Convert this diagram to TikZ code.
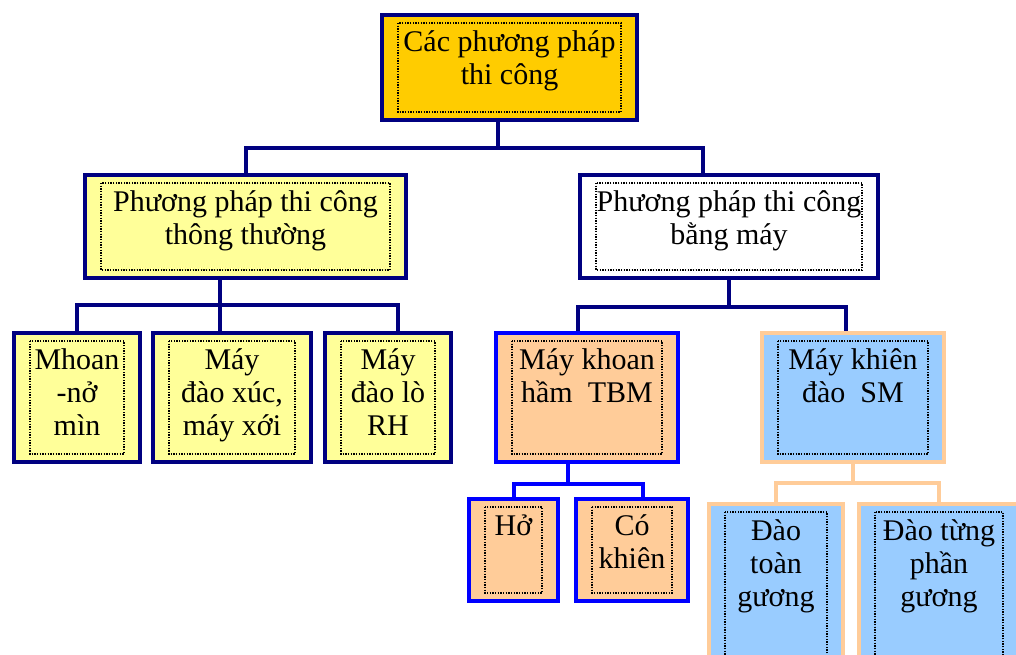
\documentclass[tikz,border=0pt]{standalone}
\usepackage{fontspec}
\setmainfont{Liberation Serif}
\usetikzlibrary{calc, fit}
\definecolor{cnavy}{HTML}{000080}
\definecolor{cgold}{HTML}{FFCC00}
\definecolor{cyellow}{HTML}{FFFF99}
\definecolor{cpeach}{HTML}{FFCC99}
\definecolor{csky}{HTML}{99CCFF}
\definecolor{cblue}{HTML}{0000FF}
\tikzset{
  every picture/.style={font=\fontsize{22.5}{25}\selectfont},
  box/.style 2 args={draw=#1, fill=#2, line width=3pt, inner sep=0pt},
  topbox/.style={box={cnavy}{cgold}},
  plainbox/.style={box={cnavy}{cyellow}},
  whitebox/.style={box={cnavy}{white}},
  tbmbox/.style={box={cblue}{cpeach}},
  smbox/.style={box={cpeach}{csky}},
  frame/.style={draw=black, line width=1pt, dash pattern=on 1pt off 1pt},
  boxtext/.style={align=center, inner sep=0pt, anchor=north},
  link/.style={draw=#1, line width=3pt},
  link/.default=cnavy,
}
\begin{document}
\begin{tikzpicture}[x=0.75pt, y=-0.75pt]
  \clip (0,0) rectangle (1016,655);
  % boxes: name/style/corners/text
  \foreach \n/\st/\xa/\ya/\xb/\yb/\txt in {
      cac/topbox/382/15/637/120/{Các phương pháp\\thi công},
      thuong/plainbox/85/175/406/278/{Phương pháp thi công\\thông thường},
      may/whitebox/580/175/878/278/{Phương pháp thi công\\bằng máy},
      mhoan/plainbox/14/333/140/462/{Mhoan\\-nở\\mìn},
      xuc/plainbox/153/333/311/462/{Máy\\đào xúc,\\máy xới},
      rh/plainbox/325/333/451/462/{Máy\\đào lò\\RH},
      tbm/tbmbox/496/333/678/462/{Máy khoan\\hầm~~TBM},
      sm/smbox/762/333/944/462/{Máy khiên\\đào~~SM},
      ho/tbmbox/469/499/558/601/{Hở},
      khien/tbmbox/576/499/688/601/{Có\\khiên},
      toan/smbox/709/504/843/665/{Đào\\toàn\\gương},
      tung/smbox/859/504/1019/665/{Đào từng\\phần\\gương}} {
    \node[\st, fit={(\xa,\ya) (\xb,\yb)}] (\n) {};
    \draw[frame] ($(\n.north west)+(18,10)$) rectangle ($(\n.south east)+(-18,-10)$);
    \node[boxtext] (\n-t) at ($(\n.north)+(0,10)$) {\rule{0pt}{21pt}\txt};
  }
  % connectors
  \draw[link] ($(cac.south)+(-11.5,0)$) -- ++(0,26) coordinate (j0);
  \draw[link] (thuong.north) |- (j0) -| ($(may.north)+(-26,0)$);
  \draw[link] ($(thuong.south)+(-25.5,0)$) -- ($(xuc.north)+(-12,0)$);
  \draw[link] (mhoan.north) |- ($(rh.north)+(10,-26)$) -- ($(rh.north)+(10,0)$);
  \draw[link] (may.south) -- ++(0,27) coordinate (j1);
  \draw[link] ($(tbm.north)+(-9,0)$) |- (j1) -| ($(sm.north)+(-7,0)$);
  \draw[link=cblue] ($(tbm.south)+(-19,0)$) -- ++(0,20) coordinate (j2);
  \draw[link=cblue] (ho.north) |- (j2) -| ($(khien.north)+(11,0)$);
  \draw[link=cpeach] (sm.south) -- ++(0,19) coordinate (j3);
  \draw[link=cpeach] (toan.north) |- (j3) -| (tung.north);
\end{tikzpicture}
\end{document}
